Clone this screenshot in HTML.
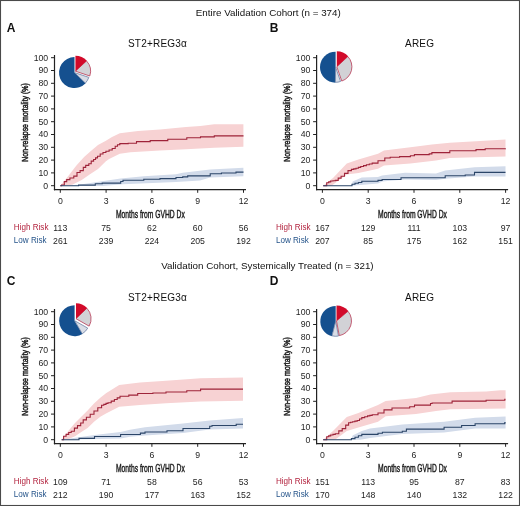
<!DOCTYPE html>
<html><head><meta charset="utf-8"><style>
html,body{margin:0;padding:0;background:#fff;}
svg{display:block;filter:blur(0.3px);}
text{font-family:"Liberation Sans", sans-serif;}
.tk{font-size:8.7px;fill:#1e1e1e;}
.rt{font-size:8.7px;fill:#1e1e1e;}
.rl{font-size:9.1px;}
.xl{font-size:10px;fill:#1a1a1a;stroke:#1a1a1a;stroke-width:0.4px;}
.yl{font-size:9px;fill:#222;stroke:#222;stroke-width:0.5px;}
.pt{font-size:10px;letter-spacing:0.2px;fill:#111;}
.hd{font-size:9.8px;fill:#111;}
.lt{font-size:12px;font-weight:bold;fill:#111;}
</style></head><body>
<svg width="520" height="506" viewBox="0 0 520 506">
<rect x="0" y="0" width="520" height="506" fill="#fff"/>
<polygon points="60.30,185.70 68.30,176.10 76.20,165.80 84.10,157.10 91.20,150.80 98.00,145.00 105.90,140.70 112.00,137.00 119.80,133.30 138.00,131.00 160.00,129.60 186.00,127.10 200.40,126.00 214.30,124.30 243.40,124.30 243.40,146.80 214.30,147.80 186.00,149.30 160.00,150.50 130.40,152.30 119.80,153.80 109.10,159.10 105.90,161.30 98.00,169.00 89.60,174.50 81.70,180.00 72.20,184.80 60.30,185.70" fill="#f7d2d3"/>
<polygon points="60.30,185.70 78.60,184.80 102.20,181.20 120.70,178.50 143.80,176.20 176.00,174.30 182.70,172.80 210.20,169.50 243.40,167.80 243.40,176.20 210.20,177.50 200.00,180.50 176.00,181.90 123.00,184.20 102.20,185.90 60.30,185.70" fill="#d2dbea" />
<path d="M60.30,185.70 H61.60 V185.00 H64.30 V181.60 H66.70 V179.60 H69.90 V178.00 H73.80 V176.10 H77.00 V172.50 H80.10 V170.60 H83.30 V167.40 H85.70 V165.40 H88.80 V163.80 H91.20 V161.10 H93.60 V159.50 H95.55 V157.90 H97.50 V156.30 H100.20 V154.00 H103.00 V152.50 H105.90 V151.20 H109.10 V150.00 H112.20 V148.50 H115.20 V146.20 H117.50 V144.80 H119.80 V143.60 H128.20 V143.20 H136.50 V141.60 H150.20 V140.60 H167.80 V139.20 H186.80 V137.80 H200.50 V136.90 H214.30 V135.90 H243.50 V135.90" fill="none" stroke="#9e2339" stroke-width="1.1"/>
<path d="M60.3,185.7 H78.6 V185.1 H95.3 V183.8 H102.2 V183.1 H120.7 V181.5 H123 V180.3 H143.8 V179.2 H160 V178.6 H176 V177.5 H182.7 V176.9 H187.7 V175.9 H210.2 V173.8 H221.4 V173 H236 V172.1 H243.5" fill="none" stroke="#2b4568" stroke-width="1.1"/>
<line x1="54.50" y1="55.00" x2="54.50" y2="190.30" stroke="#222222" stroke-width="1.2"/>
<line x1="53.90" y1="189.70" x2="246.00" y2="189.70" stroke="#222222" stroke-width="1.2"/>
<line x1="51.00" y1="185.70" x2="54.50" y2="185.70" stroke="#222222" stroke-width="1"/>
<text x="48.20" y="188.50" text-anchor="end" class="tk">0</text>
<line x1="51.00" y1="172.90" x2="54.50" y2="172.90" stroke="#222222" stroke-width="1"/>
<text x="48.20" y="175.70" text-anchor="end" class="tk">10</text>
<line x1="51.00" y1="160.10" x2="54.50" y2="160.10" stroke="#222222" stroke-width="1"/>
<text x="48.20" y="162.90" text-anchor="end" class="tk">20</text>
<line x1="51.00" y1="147.30" x2="54.50" y2="147.30" stroke="#222222" stroke-width="1"/>
<text x="48.20" y="150.10" text-anchor="end" class="tk">30</text>
<line x1="51.00" y1="134.50" x2="54.50" y2="134.50" stroke="#222222" stroke-width="1"/>
<text x="48.20" y="137.30" text-anchor="end" class="tk">40</text>
<line x1="51.00" y1="121.70" x2="54.50" y2="121.70" stroke="#222222" stroke-width="1"/>
<text x="48.20" y="124.50" text-anchor="end" class="tk">50</text>
<line x1="51.00" y1="108.90" x2="54.50" y2="108.90" stroke="#222222" stroke-width="1"/>
<text x="48.20" y="111.70" text-anchor="end" class="tk">60</text>
<line x1="51.00" y1="96.10" x2="54.50" y2="96.10" stroke="#222222" stroke-width="1"/>
<text x="48.20" y="98.90" text-anchor="end" class="tk">70</text>
<line x1="51.00" y1="83.30" x2="54.50" y2="83.30" stroke="#222222" stroke-width="1"/>
<text x="48.20" y="86.10" text-anchor="end" class="tk">80</text>
<line x1="51.00" y1="70.50" x2="54.50" y2="70.50" stroke="#222222" stroke-width="1"/>
<text x="48.20" y="73.30" text-anchor="end" class="tk">90</text>
<line x1="51.00" y1="57.70" x2="54.50" y2="57.70" stroke="#222222" stroke-width="1"/>
<text x="48.20" y="60.50" text-anchor="end" class="tk">100</text>
<line x1="60.30" y1="189.70" x2="60.30" y2="192.80" stroke="#222222" stroke-width="1"/>
<text x="60.30" y="203.60" text-anchor="middle" class="tk">0</text>
<text x="60.30" y="230.80" text-anchor="middle" class="rt">113</text>
<text x="60.30" y="243.50" text-anchor="middle" class="rt">261</text>
<line x1="106.10" y1="189.70" x2="106.10" y2="192.80" stroke="#222222" stroke-width="1"/>
<text x="106.10" y="203.60" text-anchor="middle" class="tk">3</text>
<text x="106.10" y="230.80" text-anchor="middle" class="rt">75</text>
<text x="106.10" y="243.50" text-anchor="middle" class="rt">239</text>
<line x1="151.90" y1="189.70" x2="151.90" y2="192.80" stroke="#222222" stroke-width="1"/>
<text x="151.90" y="203.60" text-anchor="middle" class="tk">6</text>
<text x="151.90" y="230.80" text-anchor="middle" class="rt">62</text>
<text x="151.90" y="243.50" text-anchor="middle" class="rt">224</text>
<line x1="197.70" y1="189.70" x2="197.70" y2="192.80" stroke="#222222" stroke-width="1"/>
<text x="197.70" y="203.60" text-anchor="middle" class="tk">9</text>
<text x="197.70" y="230.80" text-anchor="middle" class="rt">60</text>
<text x="197.70" y="243.50" text-anchor="middle" class="rt">205</text>
<line x1="243.50" y1="189.70" x2="243.50" y2="192.80" stroke="#222222" stroke-width="1"/>
<text x="243.50" y="203.60" text-anchor="middle" class="tk">12</text>
<text x="243.50" y="230.80" text-anchor="middle" class="rt">56</text>
<text x="243.50" y="243.50" text-anchor="middle" class="rt">192</text>
<text x="0" y="0" transform="translate(13.80,230.40) scale(0.89,1)" class="rl" style="fill:#b3243f">High Risk</text>
<text x="0" y="0" transform="translate(13.80,243.10) scale(0.89,1)" class="rl" style="fill:#25548a">Low Risk</text>
<text x="0" y="0" transform="translate(150.40,217.60) scale(0.675,1)" text-anchor="middle" class="xl">Months from GVHD Dx</text>
<text x="0" y="0" transform="translate(27.90,122.50) rotate(-90) scale(0.77,1)" text-anchor="middle" class="yl">Non-relapse mortality (%)</text>
<text x="157.50" y="47.00" text-anchor="middle" class="pt">ST2+REG3α</text>
<path d="M74.50,72.60 L85.65,83.37 A15.5,15.5 0 1 1 74.50,57.10 Z" fill="#15508f"/>
<path d="M74.50,72.60 L88.82,77.39 A15.1,15.1 0 0 1 85.36,83.09 Z" fill="#d9dde6" stroke="#6a7fa5" stroke-width="0.8" stroke-linejoin="round"/>
<path d="M75.45,71.20 L86.49,60.90 A15.1,15.1 0 0 1 89.77,75.99 Z" fill="#d2d2d6" stroke="#b83a55" stroke-width="0.8" stroke-linejoin="round"/>
<path d="M75.45,71.20 L75.45,55.70 A15.5,15.5 0 0 1 86.79,60.63 Z" fill="#d20a2a"/>
<polygon points="323.20,185.70 333.00,178.10 346.80,163.60 358.40,159.60 378.00,153.80 384.00,150.50 410.40,147.20 431.90,144.50 449.80,142.70 476.00,141.20 505.50,139.60 505.50,156.50 476.00,157.30 449.80,158.10 436.00,160.40 410.40,163.40 384.00,165.60 378.00,168.80 358.40,172.90 346.80,174.60 331.80,185.60 323.20,185.70" fill="#f7d2d3"/>
<polygon points="323.20,185.70 352.00,185.70 352.60,181.50 361.80,177.50 378.00,176.90 382.10,175.50 405.00,172.80 436.00,173.50 445.20,170.40 474.50,167.30 505.50,166.20 505.50,176.50 474.50,176.50 445.20,178.80 436.00,180.00 405.00,179.50 382.10,181.50 378.00,183.60 352.00,185.70 323.20,185.70" fill="#d2dbea" />
<path d="M323.20,185.70 H326.70 V182.70 H328.70 V181.85 H330.70 V181.00 H333.00 V180.70 H335.30 V180.40 H338.20 V178.10 H341.10 V176.30 H344.50 V173.40 H348.00 V170.60 H351.40 V169.40 H353.70 V168.85 H356.00 V168.30 H358.35 V167.40 H360.70 V166.50 H363.55 V165.65 H366.40 V164.80 H369.30 V163.95 H372.20 V163.10 H378.00 V160.80 H384.80 V158.00 H390.20 V157.30 H399.60 V156.60 H410.40 V155.70 H414.40 V154.60 H429.20 V153.90 H431.90 V152.60 H449.80 V150.80 H476.00 V149.60 H485.20 V148.80 H505.50 V148.40" fill="none" stroke="#9e2339" stroke-width="1.1"/>
<path d="M323.2,185.7 H352 V184.2 H355 V183.3 H358.4 V182.5 H361.8 V181.3 H378 V180.4 H382.1 V179.5 H401 V177.8 H445.2 V175.8 H465.2 V175 H474.5 V172.4 H505.5" fill="none" stroke="#2b4568" stroke-width="1.1"/>
<line x1="316.60" y1="55.00" x2="316.60" y2="190.30" stroke="#222222" stroke-width="1.2"/>
<line x1="316.00" y1="189.70" x2="508.10" y2="189.70" stroke="#222222" stroke-width="1.2"/>
<line x1="313.10" y1="185.70" x2="316.60" y2="185.70" stroke="#222222" stroke-width="1"/>
<text x="310.30" y="188.50" text-anchor="end" class="tk">0</text>
<line x1="313.10" y1="172.90" x2="316.60" y2="172.90" stroke="#222222" stroke-width="1"/>
<text x="310.30" y="175.70" text-anchor="end" class="tk">10</text>
<line x1="313.10" y1="160.10" x2="316.60" y2="160.10" stroke="#222222" stroke-width="1"/>
<text x="310.30" y="162.90" text-anchor="end" class="tk">20</text>
<line x1="313.10" y1="147.30" x2="316.60" y2="147.30" stroke="#222222" stroke-width="1"/>
<text x="310.30" y="150.10" text-anchor="end" class="tk">30</text>
<line x1="313.10" y1="134.50" x2="316.60" y2="134.50" stroke="#222222" stroke-width="1"/>
<text x="310.30" y="137.30" text-anchor="end" class="tk">40</text>
<line x1="313.10" y1="121.70" x2="316.60" y2="121.70" stroke="#222222" stroke-width="1"/>
<text x="310.30" y="124.50" text-anchor="end" class="tk">50</text>
<line x1="313.10" y1="108.90" x2="316.60" y2="108.90" stroke="#222222" stroke-width="1"/>
<text x="310.30" y="111.70" text-anchor="end" class="tk">60</text>
<line x1="313.10" y1="96.10" x2="316.60" y2="96.10" stroke="#222222" stroke-width="1"/>
<text x="310.30" y="98.90" text-anchor="end" class="tk">70</text>
<line x1="313.10" y1="83.30" x2="316.60" y2="83.30" stroke="#222222" stroke-width="1"/>
<text x="310.30" y="86.10" text-anchor="end" class="tk">80</text>
<line x1="313.10" y1="70.50" x2="316.60" y2="70.50" stroke="#222222" stroke-width="1"/>
<text x="310.30" y="73.30" text-anchor="end" class="tk">90</text>
<line x1="313.10" y1="57.70" x2="316.60" y2="57.70" stroke="#222222" stroke-width="1"/>
<text x="310.30" y="60.50" text-anchor="end" class="tk">100</text>
<line x1="322.40" y1="189.70" x2="322.40" y2="192.80" stroke="#222222" stroke-width="1"/>
<text x="322.40" y="203.60" text-anchor="middle" class="tk">0</text>
<text x="322.40" y="230.80" text-anchor="middle" class="rt">167</text>
<text x="322.40" y="243.50" text-anchor="middle" class="rt">207</text>
<line x1="368.20" y1="189.70" x2="368.20" y2="192.80" stroke="#222222" stroke-width="1"/>
<text x="368.20" y="203.60" text-anchor="middle" class="tk">3</text>
<text x="368.20" y="230.80" text-anchor="middle" class="rt">129</text>
<text x="368.20" y="243.50" text-anchor="middle" class="rt">85</text>
<line x1="414.00" y1="189.70" x2="414.00" y2="192.80" stroke="#222222" stroke-width="1"/>
<text x="414.00" y="203.60" text-anchor="middle" class="tk">6</text>
<text x="414.00" y="230.80" text-anchor="middle" class="rt">111</text>
<text x="414.00" y="243.50" text-anchor="middle" class="rt">175</text>
<line x1="459.80" y1="189.70" x2="459.80" y2="192.80" stroke="#222222" stroke-width="1"/>
<text x="459.80" y="203.60" text-anchor="middle" class="tk">9</text>
<text x="459.80" y="230.80" text-anchor="middle" class="rt">103</text>
<text x="459.80" y="243.50" text-anchor="middle" class="rt">162</text>
<line x1="505.60" y1="189.70" x2="505.60" y2="192.80" stroke="#222222" stroke-width="1"/>
<text x="505.60" y="203.60" text-anchor="middle" class="tk">12</text>
<text x="505.60" y="230.80" text-anchor="middle" class="rt">97</text>
<text x="505.60" y="243.50" text-anchor="middle" class="rt">151</text>
<text x="0" y="0" transform="translate(275.90,230.40) scale(0.89,1)" class="rl" style="fill:#b3243f">High Risk</text>
<text x="0" y="0" transform="translate(275.90,243.10) scale(0.89,1)" class="rl" style="fill:#25548a">Low Risk</text>
<text x="0" y="0" transform="translate(412.50,217.60) scale(0.675,1)" text-anchor="middle" class="xl">Months from GVHD Dx</text>
<text x="0" y="0" transform="translate(290.00,122.50) rotate(-90) scale(0.77,1)" text-anchor="middle" class="yl">Non-relapse mortality (%)</text>
<text x="419.60" y="47.00" text-anchor="middle" class="pt">AREG</text>
<path d="M335.60,67.20 L335.38,82.70 A15.5,15.5 0 0 1 335.60,51.70 Z" fill="#15508f"/>
<path d="M335.60,67.20 L340.57,81.46 A15.1,15.1 0 0 1 335.39,82.30 Z" fill="#d9dde6" stroke="#6a7fa5" stroke-width="0.8" stroke-linejoin="round"/>
<path d="M336.80,66.80 L347.84,56.50 A15.1,15.1 0 0 1 341.77,81.06 Z" fill="#d2d2d6" stroke="#b83a55" stroke-width="0.8" stroke-linejoin="round"/>
<path d="M336.80,66.80 L336.80,51.30 A15.5,15.5 0 0 1 348.14,56.23 Z" fill="#d20a2a"/>
<polygon points="61.70,439.70 68.70,430.60 75.00,423.00 81.30,416.70 87.60,410.40 94.00,403.40 100.30,397.70 106.00,393.30 119.20,385.00 140.00,382.60 166.00,380.80 200.60,378.20 243.00,377.60 243.00,400.70 200.60,401.50 166.00,403.30 140.00,405.10 119.20,406.70 106.00,413.50 100.30,416.70 94.00,421.80 87.60,428.10 81.30,431.90 75.00,436.30 68.70,438.90 61.70,439.70" fill="#f7d2d3"/>
<polygon points="61.60,439.70 79.00,437.30 94.50,435.00 120.60,431.90 130.00,429.80 145.00,427.30 183.00,423.40 209.70,420.40 243.00,418.10 243.00,428.50 209.70,429.60 183.00,433.10 145.00,435.40 130.00,436.80 120.60,438.50 61.60,439.70" fill="#d2dbea" />
<path d="M61.70,439.70 H63.60 V436.30 H66.10 V434.40 H68.70 V432.50 H71.20 V431.30 H74.40 V428.10 H77.50 V425.60 H80.70 V423.00 H83.20 V419.90 H86.40 V417.30 H90.20 V414.20 H94.00 V411.00 H97.80 V407.80 H101.60 V405.30 H103.80 V404.35 H106.00 V403.40 H108.00 V402.70 H111.20 V401.10 H114.40 V399.50 H117.20 V397.90 H120.00 V396.30 H128.80 V395.10 H137.70 V393.50 H152.90 V393.00 H166.00 V392.00 H186.80 V390.80 H200.60 V389.10 H243.00 V389.10" fill="none" stroke="#9e2339" stroke-width="1.1"/>
<path d="M61.6,439.7 H79 V438.4 H94.5 V436.5 H120.6 V434.5 H140.4 V433.1 H145 V432 H167 V430.8 H183 V428.5 H209.7 V426.2 H212 V425.5 H236.2 V424.3 H243" fill="none" stroke="#2b4568" stroke-width="1.1"/>
<line x1="54.50" y1="309.00" x2="54.50" y2="444.30" stroke="#222222" stroke-width="1.2"/>
<line x1="53.90" y1="443.70" x2="246.00" y2="443.70" stroke="#222222" stroke-width="1.2"/>
<line x1="51.00" y1="439.70" x2="54.50" y2="439.70" stroke="#222222" stroke-width="1"/>
<text x="48.20" y="442.50" text-anchor="end" class="tk">0</text>
<line x1="51.00" y1="426.90" x2="54.50" y2="426.90" stroke="#222222" stroke-width="1"/>
<text x="48.20" y="429.70" text-anchor="end" class="tk">10</text>
<line x1="51.00" y1="414.10" x2="54.50" y2="414.10" stroke="#222222" stroke-width="1"/>
<text x="48.20" y="416.90" text-anchor="end" class="tk">20</text>
<line x1="51.00" y1="401.30" x2="54.50" y2="401.30" stroke="#222222" stroke-width="1"/>
<text x="48.20" y="404.10" text-anchor="end" class="tk">30</text>
<line x1="51.00" y1="388.50" x2="54.50" y2="388.50" stroke="#222222" stroke-width="1"/>
<text x="48.20" y="391.30" text-anchor="end" class="tk">40</text>
<line x1="51.00" y1="375.70" x2="54.50" y2="375.70" stroke="#222222" stroke-width="1"/>
<text x="48.20" y="378.50" text-anchor="end" class="tk">50</text>
<line x1="51.00" y1="362.90" x2="54.50" y2="362.90" stroke="#222222" stroke-width="1"/>
<text x="48.20" y="365.70" text-anchor="end" class="tk">60</text>
<line x1="51.00" y1="350.10" x2="54.50" y2="350.10" stroke="#222222" stroke-width="1"/>
<text x="48.20" y="352.90" text-anchor="end" class="tk">70</text>
<line x1="51.00" y1="337.30" x2="54.50" y2="337.30" stroke="#222222" stroke-width="1"/>
<text x="48.20" y="340.10" text-anchor="end" class="tk">80</text>
<line x1="51.00" y1="324.50" x2="54.50" y2="324.50" stroke="#222222" stroke-width="1"/>
<text x="48.20" y="327.30" text-anchor="end" class="tk">90</text>
<line x1="51.00" y1="311.70" x2="54.50" y2="311.70" stroke="#222222" stroke-width="1"/>
<text x="48.20" y="314.50" text-anchor="end" class="tk">100</text>
<line x1="60.30" y1="443.70" x2="60.30" y2="446.80" stroke="#222222" stroke-width="1"/>
<text x="60.30" y="457.60" text-anchor="middle" class="tk">0</text>
<text x="60.30" y="484.80" text-anchor="middle" class="rt">109</text>
<text x="60.30" y="497.50" text-anchor="middle" class="rt">212</text>
<line x1="106.10" y1="443.70" x2="106.10" y2="446.80" stroke="#222222" stroke-width="1"/>
<text x="106.10" y="457.60" text-anchor="middle" class="tk">3</text>
<text x="106.10" y="484.80" text-anchor="middle" class="rt">71</text>
<text x="106.10" y="497.50" text-anchor="middle" class="rt">190</text>
<line x1="151.90" y1="443.70" x2="151.90" y2="446.80" stroke="#222222" stroke-width="1"/>
<text x="151.90" y="457.60" text-anchor="middle" class="tk">6</text>
<text x="151.90" y="484.80" text-anchor="middle" class="rt">58</text>
<text x="151.90" y="497.50" text-anchor="middle" class="rt">177</text>
<line x1="197.70" y1="443.70" x2="197.70" y2="446.80" stroke="#222222" stroke-width="1"/>
<text x="197.70" y="457.60" text-anchor="middle" class="tk">9</text>
<text x="197.70" y="484.80" text-anchor="middle" class="rt">56</text>
<text x="197.70" y="497.50" text-anchor="middle" class="rt">163</text>
<line x1="243.50" y1="443.70" x2="243.50" y2="446.80" stroke="#222222" stroke-width="1"/>
<text x="243.50" y="457.60" text-anchor="middle" class="tk">12</text>
<text x="243.50" y="484.80" text-anchor="middle" class="rt">53</text>
<text x="243.50" y="497.50" text-anchor="middle" class="rt">152</text>
<text x="0" y="0" transform="translate(13.80,484.40) scale(0.89,1)" class="rl" style="fill:#b3243f">High Risk</text>
<text x="0" y="0" transform="translate(13.80,497.10) scale(0.89,1)" class="rl" style="fill:#25548a">Low Risk</text>
<text x="0" y="0" transform="translate(150.40,471.60) scale(0.675,1)" text-anchor="middle" class="xl">Months from GVHD Dx</text>
<text x="0" y="0" transform="translate(27.90,376.50) rotate(-90) scale(0.77,1)" text-anchor="middle" class="yl">Non-relapse mortality (%)</text>
<text x="157.50" y="301.00" text-anchor="middle" class="pt">ST2+REG3α</text>
<path d="M74.60,320.70 L82.47,334.06 A15.5,15.5 0 1 1 74.60,305.20 Z" fill="#15508f"/>
<path d="M74.60,320.70 L87.74,328.14 A15.1,15.1 0 0 1 82.26,333.71 Z" fill="#d9dde6" stroke="#6a7fa5" stroke-width="0.8" stroke-linejoin="round"/>
<path d="M76.00,318.70 L86.86,308.21 A15.1,15.1 0 0 1 89.14,326.14 Z" fill="#d2d2d6" stroke="#b83a55" stroke-width="0.8" stroke-linejoin="round"/>
<path d="M76.00,318.70 L76.00,303.20 A15.5,15.5 0 0 1 87.15,307.93 Z" fill="#d20a2a"/>
<polygon points="323.20,439.70 333.00,430.90 346.80,417.10 358.40,413.00 378.00,405.00 385.60,401.10 416.00,397.90 430.50,394.60 450.40,392.30 486.00,391.40 500.50,390.20 505.60,390.20 505.60,408.40 450.40,409.20 436.00,410.90 416.00,413.90 385.60,416.30 378.00,421.70 358.40,427.40 346.80,430.90 335.30,439.60 323.20,439.70" fill="#f7d2d3"/>
<polygon points="323.20,439.70 351.40,439.70 352.60,435.50 361.80,430.90 370.00,428.50 382.40,427.00 402.30,424.50 444.10,421.80 475.10,417.70 505.60,416.40 505.60,428.50 475.10,428.50 444.10,432.60 402.30,433.90 370.00,438.00 361.80,439.60 323.20,439.70" fill="#d2dbea" />
<path d="M323.20,439.70 H326.70 V436.70 H328.70 V435.85 H330.70 V435.00 H333.00 V434.40 H335.30 V433.80 H338.80 V430.90 H342.20 V428.60 H345.70 V425.10 H348.60 V422.80 H350.60 V422.25 H352.60 V421.70 H354.90 V421.10 H357.20 V420.50 H359.50 V419.05 H361.80 V417.60 H364.70 V416.75 H367.60 V415.90 H369.90 V415.35 H372.20 V414.80 H378.00 V413.00 H384.00 V409.90 H392.00 V408.00 H409.70 V406.70 H414.50 V405.10 H430.50 V403.50 H432.10 V403.00 H452.10 V401.10 H486.10 V400.20 H504.80 V399.40 H505.50 V399.40" fill="none" stroke="#9e2339" stroke-width="1.1"/>
<path d="M323.2,439.7 H351.4 V438.6 H355 V437.3 H358.4 V435.8 H361.8 V434.4 H378 V433.2 H382.4 V432.3 H402.3 V431.2 H406.4 V429.1 H444.1 V427.2 H461.6 V425.5 H475.1 V423.7 H504.8 V422.6 H505.6" fill="none" stroke="#2b4568" stroke-width="1.1"/>
<line x1="316.60" y1="309.00" x2="316.60" y2="444.30" stroke="#222222" stroke-width="1.2"/>
<line x1="316.00" y1="443.70" x2="508.10" y2="443.70" stroke="#222222" stroke-width="1.2"/>
<line x1="313.10" y1="439.70" x2="316.60" y2="439.70" stroke="#222222" stroke-width="1"/>
<text x="310.30" y="442.50" text-anchor="end" class="tk">0</text>
<line x1="313.10" y1="426.90" x2="316.60" y2="426.90" stroke="#222222" stroke-width="1"/>
<text x="310.30" y="429.70" text-anchor="end" class="tk">10</text>
<line x1="313.10" y1="414.10" x2="316.60" y2="414.10" stroke="#222222" stroke-width="1"/>
<text x="310.30" y="416.90" text-anchor="end" class="tk">20</text>
<line x1="313.10" y1="401.30" x2="316.60" y2="401.30" stroke="#222222" stroke-width="1"/>
<text x="310.30" y="404.10" text-anchor="end" class="tk">30</text>
<line x1="313.10" y1="388.50" x2="316.60" y2="388.50" stroke="#222222" stroke-width="1"/>
<text x="310.30" y="391.30" text-anchor="end" class="tk">40</text>
<line x1="313.10" y1="375.70" x2="316.60" y2="375.70" stroke="#222222" stroke-width="1"/>
<text x="310.30" y="378.50" text-anchor="end" class="tk">50</text>
<line x1="313.10" y1="362.90" x2="316.60" y2="362.90" stroke="#222222" stroke-width="1"/>
<text x="310.30" y="365.70" text-anchor="end" class="tk">60</text>
<line x1="313.10" y1="350.10" x2="316.60" y2="350.10" stroke="#222222" stroke-width="1"/>
<text x="310.30" y="352.90" text-anchor="end" class="tk">70</text>
<line x1="313.10" y1="337.30" x2="316.60" y2="337.30" stroke="#222222" stroke-width="1"/>
<text x="310.30" y="340.10" text-anchor="end" class="tk">80</text>
<line x1="313.10" y1="324.50" x2="316.60" y2="324.50" stroke="#222222" stroke-width="1"/>
<text x="310.30" y="327.30" text-anchor="end" class="tk">90</text>
<line x1="313.10" y1="311.70" x2="316.60" y2="311.70" stroke="#222222" stroke-width="1"/>
<text x="310.30" y="314.50" text-anchor="end" class="tk">100</text>
<line x1="322.40" y1="443.70" x2="322.40" y2="446.80" stroke="#222222" stroke-width="1"/>
<text x="322.40" y="457.60" text-anchor="middle" class="tk">0</text>
<text x="322.40" y="484.80" text-anchor="middle" class="rt">151</text>
<text x="322.40" y="497.50" text-anchor="middle" class="rt">170</text>
<line x1="368.20" y1="443.70" x2="368.20" y2="446.80" stroke="#222222" stroke-width="1"/>
<text x="368.20" y="457.60" text-anchor="middle" class="tk">3</text>
<text x="368.20" y="484.80" text-anchor="middle" class="rt">113</text>
<text x="368.20" y="497.50" text-anchor="middle" class="rt">148</text>
<line x1="414.00" y1="443.70" x2="414.00" y2="446.80" stroke="#222222" stroke-width="1"/>
<text x="414.00" y="457.60" text-anchor="middle" class="tk">6</text>
<text x="414.00" y="484.80" text-anchor="middle" class="rt">95</text>
<text x="414.00" y="497.50" text-anchor="middle" class="rt">140</text>
<line x1="459.80" y1="443.70" x2="459.80" y2="446.80" stroke="#222222" stroke-width="1"/>
<text x="459.80" y="457.60" text-anchor="middle" class="tk">9</text>
<text x="459.80" y="484.80" text-anchor="middle" class="rt">87</text>
<text x="459.80" y="497.50" text-anchor="middle" class="rt">132</text>
<line x1="505.60" y1="443.70" x2="505.60" y2="446.80" stroke="#222222" stroke-width="1"/>
<text x="505.60" y="457.60" text-anchor="middle" class="tk">12</text>
<text x="505.60" y="484.80" text-anchor="middle" class="rt">83</text>
<text x="505.60" y="497.50" text-anchor="middle" class="rt">122</text>
<text x="0" y="0" transform="translate(275.90,484.40) scale(0.89,1)" class="rl" style="fill:#b3243f">High Risk</text>
<text x="0" y="0" transform="translate(275.90,497.10) scale(0.89,1)" class="rl" style="fill:#25548a">Low Risk</text>
<text x="0" y="0" transform="translate(412.50,471.60) scale(0.675,1)" text-anchor="middle" class="xl">Months from GVHD Dx</text>
<text x="0" y="0" transform="translate(290.00,376.50) rotate(-90) scale(0.77,1)" text-anchor="middle" class="yl">Non-relapse mortality (%)</text>
<text x="419.60" y="301.00" text-anchor="middle" class="pt">AREG</text>
<path d="M335.70,321.30 L331.90,336.22 A15.4,15.4 0 0 1 335.70,305.90 Z" fill="#15508f"/>
<path d="M335.70,321.30 L338.48,336.04 A15.0,15.0 0 0 1 332.00,335.84 Z" fill="#d9dde6" stroke="#6a7fa5" stroke-width="0.8" stroke-linejoin="round"/>
<path d="M336.50,320.90 L347.99,311.26 A15.0,15.0 0 0 1 339.28,335.64 Z" fill="#d2d2d6" stroke="#b83a55" stroke-width="0.8" stroke-linejoin="round"/>
<path d="M336.50,320.90 L336.50,305.50 A15.4,15.4 0 0 1 348.30,311.00 Z" fill="#d20a2a"/>
<text x="268.3" y="15.5" text-anchor="middle" class="hd">Entire Validation Cohort (n = 374)</text>
<text x="267.4" y="269.2" text-anchor="middle" class="hd">Validation Cohort, Systemically Treated (n = 321)</text>
<text x="6.8" y="31.9" class="lt">A</text>
<text x="269.8" y="31.9" class="lt">B</text>
<text x="6.8" y="285.4" class="lt">C</text>
<text x="269.8" y="285.2" class="lt">D</text>
<rect x="0.5" y="0.5" width="519" height="505" fill="none" stroke="#4a4a4a" stroke-width="1.1"/>
</svg>
</body></html>
